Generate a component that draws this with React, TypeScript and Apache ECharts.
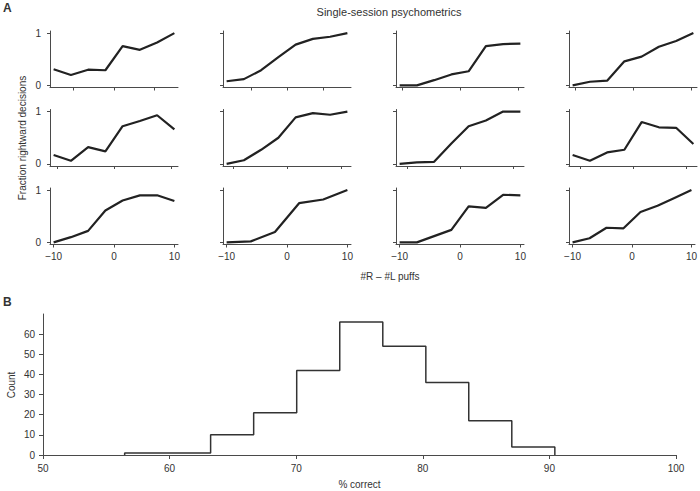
import React, { useEffect, useRef } from "react";
import * as echarts from "echarts";

// x values (#R - #L puffs) of each session, row by row
const sessionX: number[][] = [
  [-15, -10.71, -6.43, -2.14, 2.14, 6.43, 10.71, 15],
  [-16.8, -12, -7.2, -2.4, 2.4, 7.2, 12, 16.8],
  [-10.45, -7.46, -4.48, -1.49, 1.49, 4.48, 7.46, 10.45],
  [-10.45, -7.46, -4.48, -1.49, 1.49, 4.48, 7.46, 10.45],
  [-10.6, -7.57, -4.54, -1.51, 1.51, 4.54, 7.57, 10.6],
  [-11.2, -8, -4.8, -1.6, 1.6, 4.8, 8, 11.2],
  [-11.4, -8.14, -4.89, -1.63, 1.63, 4.89, 8.14, 11.4],
  [-11.4, -8.14, -4.89, -1.63, 1.63, 4.89, 8.14, 11.4],
  [-10, -7.14, -4.29, -1.43, 1.43, 4.29, 7.14, 10],
  [-10, -6, -2, 2, 6, 10],
  [-10, -7.14, -4.29, -1.43, 1.43, 4.29, 7.14, 10],
  [-10, -7.14, -4.29, -1.43, 1.43, 4.29, 7.14, 10],
];

// fraction of rightward decisions of each session
const sessionY: number[][] = [
  [0.31, 0.2, 0.3, 0.29, 0.75, 0.68, 0.82, 1.0],
  [0.08, 0.12, 0.29, 0.54, 0.78, 0.89, 0.93, 1.0],
  [0, 0, 0.1, 0.21, 0.27, 0.75, 0.79, 0.8],
  [0, 0.07, 0.09, 0.46, 0.55, 0.74, 0.85, 1.0],
  [0.17, 0.06, 0.32, 0.24, 0.72, 0.82, 0.93, 0.66],
  [0, 0.07, 0.27, 0.5, 0.89, 0.97, 0.94, 1.0],
  [0, 0.03, 0.04, 0.39, 0.72, 0.83, 1.0, 1.0],
  [0.17, 0.06, 0.22, 0.27, 0.8, 0.7, 0.69, 0.38],
  [0, 0.1, 0.22, 0.61, 0.8, 0.9, 0.9, 0.79],
  [0, 0.02, 0.2, 0.75, 0.82, 1.0],
  [0, 0, 0.12, 0.24, 0.69, 0.66, 0.91, 0.9],
  [0, 0.08, 0.28, 0.27, 0.58, 0.7, 0.85, 1.0],
];

const puffTicks = [-10, 0, 10];
const fractionTicks = [0, 1];

const binEdges = [56.45, 59.85, 63.24, 66.64, 70.04, 73.44, 76.84, 80.24, 83.63, 87.03, 90.43];
const binCounts = [1, 1, 10, 21, 42, 66, 54, 36, 17, 4];
const countTicks = [0, 10, 20, 30, 40, 50, 60];
const correctTicks = [50, 60, 70, 80, 90, 100];

const FONT = '"Liberation Sans", Arial, Helvetica, sans-serif';
const AXIS = "#4a4a4a";
const TEXT = "#333";
const minus = (v: number) => String(v).replace("-", "\u2212");

export default function App() {
  const ref = useRef<HTMLDivElement>(null);

  useEffect(() => {
    document.body.style.margin = "0";
    if (!ref.current) return;
    const chart = echarts.init(ref.current, undefined, { renderer: "svg" });

    const colLeft = [50, 223, 396, 569];
    const rowTop = [31, 109.5, 188];
    const grids: any[] = [];
    const xAxes: any[] = [];
    const yAxes: any[] = [];
    const series: any[] = [];

    sessionX.forEach((xs, i) => {
      const r = Math.floor(i / 4);
      const c = i % 4;
      const lo = Math.min(...xs);
      const hi = Math.max(...xs);
      const pad = (hi - lo) * 0.03;
      grids.push({ left: colLeft[c], top: rowTop[r], width: 128, height: 56.5 });
      xAxes.push({
        type: "value",
        gridIndex: i,
        min: lo - pad,
        max: hi + pad,
        axisLine: { onZero: false, lineStyle: { color: AXIS, width: 1 } },
        axisTick: { show: true, length: 3, customValues: puffTicks, lineStyle: { color: AXIS } },
        axisLabel: {
          show: r === 2,
          customValues: puffTicks,
          formatter: minus,
          margin: 7,
          fontSize: 10,
          color: TEXT,
          fontFamily: FONT,
        },
        splitLine: { show: false },
      });
      yAxes.push({
        type: "value",
        gridIndex: i,
        min: -0.04,
        max: 1.04,
        axisLine: { show: true, onZero: false, lineStyle: { color: AXIS, width: 1 } },
        axisTick: { show: true, length: 3, customValues: fractionTicks, lineStyle: { color: AXIS } },
        axisLabel: {
          show: c === 0,
          customValues: fractionTicks,
          margin: 9,
          fontSize: 10,
          color: TEXT,
          fontFamily: FONT,
        },
        splitLine: { show: false },
      });
      series.push({
        type: "line",
        xAxisIndex: i,
        yAxisIndex: i,
        data: xs.map((x, k) => [x, sessionY[i][k]]),
        showSymbol: false,
        symbol: "none",
        lineStyle: { color: "#222", width: 2.2 },
      });
    });

    // histogram (step outline)
    const h = sessionX.length;
    const steps: number[][] = [[binEdges[0], 0]];
    binCounts.forEach((cnt, k) => {
      steps.push([binEdges[k], cnt]);
      steps.push([binEdges[k + 1], cnt]);
    });
    steps.push([binEdges[binEdges.length - 1], 0]);

    grids.push({ left: 43, top: 314, width: 633, height: 141 });
    xAxes.push({
      type: "value",
      gridIndex: h,
      min: 50,
      max: 100,
      axisLine: { onZero: false, lineStyle: { color: AXIS, width: 1 } },
      axisTick: { show: true, length: 4, customValues: correctTicks, lineStyle: { color: AXIS } },
      axisLabel: { customValues: correctTicks, margin: 8, fontSize: 10, color: TEXT, fontFamily: FONT },
      splitLine: { show: false },
    });
    yAxes.push({
      type: "value",
      gridIndex: h,
      min: 0,
      max: 70,
      axisLine: { show: true, onZero: false, lineStyle: { color: AXIS, width: 1 } },
      axisTick: { show: true, length: 4, customValues: countTicks, lineStyle: { color: AXIS } },
      axisLabel: { customValues: countTicks, margin: 8, fontSize: 10, color: TEXT, fontFamily: FONT },
      splitLine: { show: false },
    });
    series.push({
      type: "line",
      xAxisIndex: h,
      yAxisIndex: h,
      data: steps,
      showSymbol: false,
      symbol: "none",
      lineStyle: { color: "#333", width: 1.5 },
    });

    const txt = (text: string, x: number, y: number, size: number, opts: any = {}) => ({
      type: "text",
      x,
      y,
      rotation: opts.rotation || 0,
      style: {
        text,
        fill: TEXT,
        font: `${opts.bold ? "bold " : ""}${size}px ${FONT}`,
        textAlign: opts.align || "center",
        textVerticalAlign: "middle",
      },
    });

    chart.setOption({
      animation: false,
      backgroundColor: "#ffffff",
      grid: grids,
      xAxis: xAxes,
      yAxis: yAxes,
      series,
      graphic: [
        txt("A", 3, 8, 12, { bold: true, align: "left" }),
        txt("B", 3, 302, 12, { bold: true, align: "left" }),
        txt("Single-session psychometrics", 389, 12, 11),
        txt("Fraction rightward decisions", 22, 138, 10, { rotation: Math.PI / 2 }),
        txt("#R \u2013 #L puffs", 390, 276, 10),
        txt("Count", 11, 385, 10, { rotation: Math.PI / 2 }),
        txt("% correct", 359.5, 484, 10),
      ],
    });

    return () => chart.dispose();
  }, []);

  return <div ref={ref} style={{ width: 700, height: 491 }} />;
}
